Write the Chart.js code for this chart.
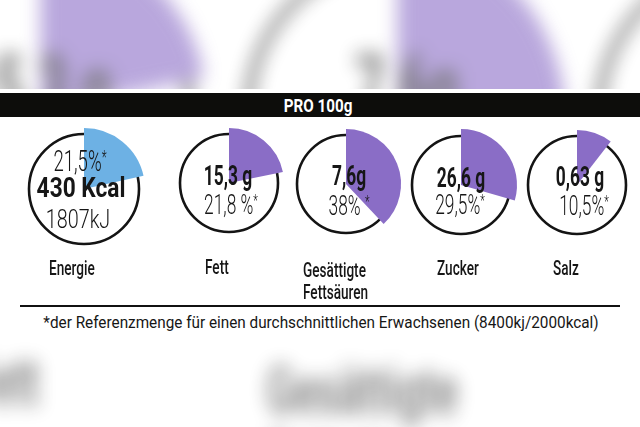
<!DOCTYPE html>
<html>
<head>
<meta charset="utf-8">
<script src="https://cdn.jsdelivr.net/npm/chart.js@4.4.1/dist/chart.umd.min.js"></script>
<style>
  html, body { margin: 0; padding: 0; width: 640px; height: 427px; overflow: hidden; background: #fff; }
  .sheet { position: absolute; left: 0; top: 0; width: 640px; height: 427px; }
  #bg { transform-origin: 0 0; transform: translate(-658px, -473px) scale(3.05, 3.2); filter: blur(3px); opacity: .6; }
  #band { position: absolute; left: 0; top: 89px; width: 640px; height: 252px; background: #fff; }
  .t { position: absolute; white-space: nowrap; line-height: 1; font-family: Roboto, "DejaVu Sans", sans-serif; color: #161616; }
  .c { transform: translate(-50%, -50%) scaleX(.62); }
  .l { transform-origin: 0 50%; transform: translateY(-50%) scaleX(.68); font-size: 20px; font-weight: 500; }
  .s { font-size: .62em; position: relative; top: -.45em; }
  #bar { position: absolute; left: 0; top: 93px; width: 640px; height: 24px; background: #0d0d0b; }
  #rule { position: absolute; left: 20px; top: 305px; width: 600px; height: 2px; background: #111; }
</style>
</head>
<body>
<div id="bg" class="sheet"></div>
<div id="band"></div>
<div id="fg" class="sheet"></div>
<script>
// --- data ---
const labels = ['Energie', 'Fett', 'Gesättigte\nFettsäuren', 'Zucker', 'Salz'];
const percents = [21.5, 21.8, 38, 29.5, 10.5];
const amountText = ['430 Kcal', '15,3 g', '7,6g', '26,6 g', '0,63 g'];
const percentText = ['21,5%', '21,8 %', '38% ', '29,5%', '10,5%'];
const energyKj = '1807kJ';
const headerText = 'PRO 100g';
const footText = '*der Referenzmenge für einen durchschnittlichen Erwachsenen (8400kj/2000kcal)';

// --- layout ---
const centers = [[84, 189], [229, 183], [346, 184], [461, 185], [577, 185]];
const wedgeR = [61, 55, 55, 56, 55];
const ringR = [55, 49, 49, 49, 49];
const colors = ['#6db1e4', '#8a6dc6', '#8a6dc6', '#8a6dc6', '#8a6dc6'];
const amountPos = [[81, 188], [228, 176], [349, 176], [461, 178], [580, 177]];
const percentPos = [[80, 161], [231, 205], [349, 206], [460, 205], [584, 206]];
const labelPos = [[49, 268], [205, 267], [303, 270], [437, 268], [553, 268]];

const ringPlugin = {
    id: 'ring',
    beforeDatasetsDraw(chart, args, opts) {
        const arc = chart.getDatasetMeta(0).data[0];
        const ctx = chart.ctx;
        ctx.save();
        ctx.beginPath();
        ctx.arc(arc.x, arc.y, opts.r, 0, Math.PI * 2);
        ctx.lineWidth = 2.6;
        ctx.strokeStyle = '#141414';
        ctx.stroke();
        ctx.restore();
    }
};

function addText(parent, cls, html, x, y, css) {
    const d = document.createElement('div');
    d.className = 't ' + cls;
    d.innerHTML = html;
    d.style.left = x + 'px';
    d.style.top = y + 'px';
    if (css) d.style.cssText += css;
    parent.appendChild(d);
    return d;
}

function buildSheet(sheet) {
    labels.forEach(function (name, i) {
        const cv = document.createElement('canvas');
        cv.width = 150; cv.height = 150;
        cv.style.cssText = 'position:absolute;left:' + (centers[i][0] - 75) + 'px;top:' + (centers[i][1] - 75) + 'px;width:150px;height:150px';
        sheet.appendChild(cv);
        new Chart(cv, {
            type: 'pie',
            data: {
                labels: [name, ''],
                datasets: [{
                    data: [percents[i], 100 - percents[i]],
                    backgroundColor: [colors[i], 'rgba(0,0,0,0)'],
                    borderWidth: 0,
                    radius: wedgeR[i]
                }]
            },
            options: {
                responsive: false,
                animation: false,
                events: [],
                layout: { padding: 0 },
                plugins: { legend: { display: false }, tooltip: { enabled: false }, ring: { r: ringR[i] } }
            },
            plugins: [ringPlugin]
        });

        const star = '<span class="s">*</span>';
        if (i === 0) {
            addText(sheet, 'c', percentText[i] + star, percentPos[i][0], percentPos[i][1], 'font-size:30px;font-weight:300');
            addText(sheet, 'c', amountText[i], amountPos[i][0], amountPos[i][1], 'font-size:27px;font-weight:700;transform:translate(-50%,-50%) scaleX(.84)');
            addText(sheet, 'c', energyKj, 78, 219, 'font-size:26px;font-weight:300;transform:translate(-50%,-50%) scaleX(.76)');
        } else {
            addText(sheet, 'c', amountText[i], amountPos[i][0], amountPos[i][1], 'font-size:28px;font-weight:700');
            addText(sheet, 'c', percentText[i] + star, percentPos[i][0], percentPos[i][1], 'font-size:28px;font-weight:300');
        }
        addText(sheet, 'l', name.replace('\n', '<br>'), labelPos[i][0], labelPos[i][1], name.indexOf('\n') > 0 ? 'line-height:22px;transform:translateY(-11px) scaleX(.68)' : '');
    });
}

buildSheet(document.getElementById('bg'));

const fg = document.getElementById('fg');
const bar = document.createElement('div'); bar.id = 'bar'; fg.appendChild(bar);
const rule = document.createElement('div'); rule.id = 'rule'; fg.appendChild(rule);
addText(fg, 'c', headerText, 318, 105, 'font-size:19px;font-weight:700;color:#fff;transform:translate(-50%,-50%) scaleX(.8)');
addText(fg, 'c', footText, 321, 322, 'font-size:17px;font-weight:400;transform:translate(-50%,-50%) scaleX(.9)');
buildSheet(fg);
</script>
</body>
</html>
